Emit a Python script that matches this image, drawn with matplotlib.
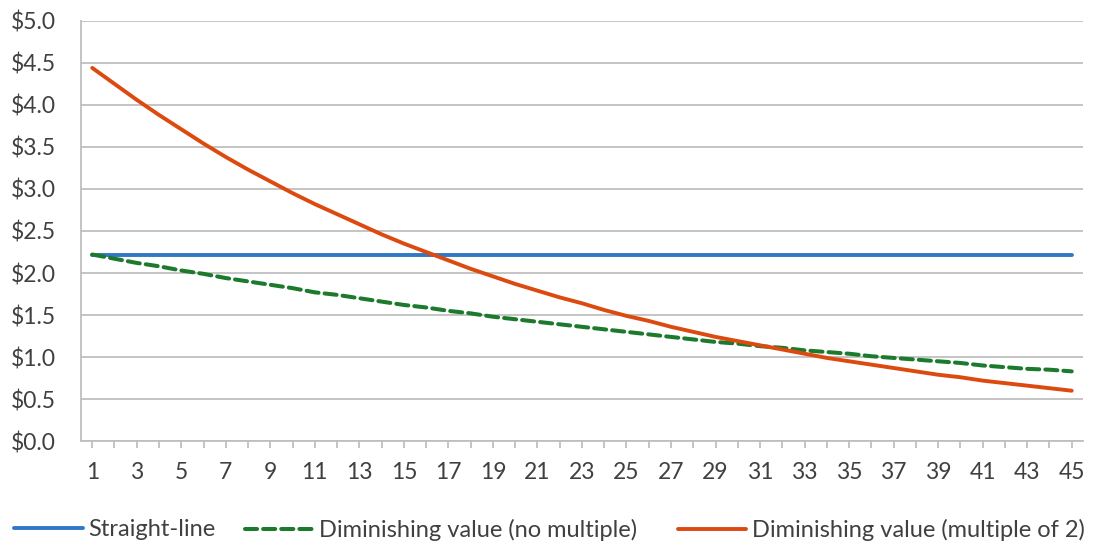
import matplotlib
matplotlib.use("Agg")
import matplotlib.pyplot as plt
from matplotlib.ticker import FuncFormatter

plt.rcParams['font.family'] = ['Lato', 'DejaVu Sans']

years = list(range(1, 46))

straight_line = [2.22] * 45

dv_no_multiple = [
    2.22, 2.17, 2.12, 2.08, 2.03, 1.99, 1.94, 1.90, 1.86, 1.82,
    1.77, 1.74, 1.70, 1.66, 1.62, 1.59, 1.55, 1.52, 1.48, 1.45,
    1.42, 1.39, 1.36, 1.33, 1.30, 1.27, 1.24, 1.21, 1.18, 1.16,
    1.13, 1.11, 1.08, 1.06, 1.04, 1.01, 0.99, 0.97, 0.95, 0.93,
    0.90, 0.88, 0.86, 0.85, 0.83,
]

dv_multiple_2 = [
    4.44, 4.25, 4.06, 3.88, 3.71, 3.54, 3.38, 3.23, 3.09, 2.95,
    2.82, 2.70, 2.58, 2.46, 2.35, 2.25, 2.15, 2.05, 1.96, 1.87,
    1.79, 1.71, 1.64, 1.56, 1.49, 1.43, 1.36, 1.30, 1.24, 1.19,
    1.14, 1.09, 1.04, 0.99, 0.95, 0.91, 0.87, 0.83, 0.79, 0.76,
    0.72, 0.69, 0.66, 0.63, 0.60,
]

series_labels = [
    "Straight-line",
    "Diminishing value (no multiple)",
    "Diminishing value (multiple of 2)",
]

y_ticks = [0.0, 0.5, 1.0, 1.5, 2.0, 2.5, 3.0, 3.5, 4.0, 4.5, 5.0]
x_labels = [str(y) if y % 2 == 1 else "" for y in years]

fig = plt.figure(figsize=(10.96, 5.48), dpi=100)
ax = fig.add_axes([0.074, 0.195, 0.914, 0.767])

grid_col = "#BFBFBF"
text_col = "#404040"

lines = []
lines += ax.plot(years, straight_line, color="#2E78C4", lw=2.8,
                 label=series_labels[0], solid_capstyle="round")
lines += ax.plot(years, dv_no_multiple, color="#1B7A2B", lw=2.9,
                 ls=(0, (3.0, 1.5)), label=series_labels[1],
                 dash_capstyle="round")
lines += ax.plot(years, dv_multiple_2, color="#DC4A10", lw=2.8,
                 label=series_labels[2], solid_capstyle="round")

ax.set_xlim(0.5, 45.5)
ax.set_ylim(0, 5.0)
ax.set_yticks(y_ticks)
ax.yaxis.set_major_formatter(FuncFormatter(lambda v, p: f"${v:.1f}"))
ax.set_xticks(years)
ax.set_xticklabels(x_labels)

ax.grid(axis="y", color=grid_col, lw=1.3)
ax.set_axisbelow(True)
for side in ("top", "right"):
    ax.spines[side].set_visible(False)
ax.spines["left"].set_color(grid_col)
ax.spines["left"].set_linewidth(1.3)
ax.spines["bottom"].set_color(grid_col)
ax.spines["bottom"].set_linewidth(1.3)

ax.tick_params(axis="y", length=0, pad=18, labelsize=16.5, labelcolor=text_col)
ax.tick_params(axis="x", length=5, width=1.3, color=grid_col, pad=10,
               labelsize=16.5, labelcolor=text_col)

# Legend entries laid out along the bottom edge, one box per series
entry_x = [0.013, 0.2235, 0.6185]
for line, x0 in zip(lines, entry_x):
    fig.legend(handles=[line], loc="center left", bbox_to_anchor=(x0, 0.033),
               frameon=False, fontsize=17, handlelength=2.9,
               handletextpad=0.25, borderpad=0, borderaxespad=0,
               labelcolor=text_col)

fig.savefig("out.png", dpi=100, facecolor="white")
